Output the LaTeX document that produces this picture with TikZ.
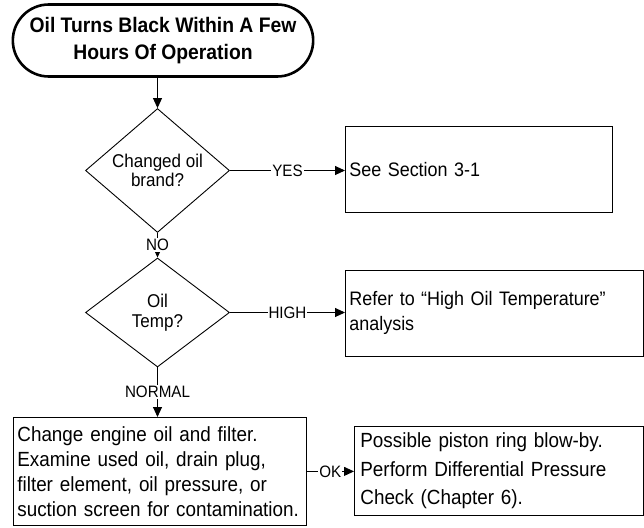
\documentclass[tikz,border=0pt]{standalone}
\usepackage{fontspec}
\setmainfont{Liberation Sans}[FakeStretch=0.92]
\usetikzlibrary{shapes.geometric, shapes.misc, arrows.meta, positioning}

\begin{document}
\begin{tikzpicture}[
    x=1pt, y=-1pt,
    term/.style={rounded rectangle, draw, line width=2.6pt, minimum width=307pt, minimum height=72pt, align=center, font=\bfseries\fontsize{21}{27}\selectfont},
    decision/.style={diamond, draw, line width=0.9pt, minimum width=144pt, minimum height=106pt, inner sep=0pt, align=center, font=\fontsize{18.5}{19.5}\selectfont},
    box/.style={rectangle, draw, line width=0.8pt, anchor=north west, inner xsep=4pt, inner ysep=3pt, align=left, font=\fontsize{19.5}{25}\selectfont},
    lbl/.style={fill=white, inner sep=1pt, font=\fontsize{16.5}{18}\selectfont},
    arrow/.style={-{Triangle[length=10pt, width=9pt]}, line width=0.9pt},
]

\useasboundingbox (0,0) rectangle (644,527);

\node[term] (oil) at (163,40.5) {Oil Turns Black Within A Few\\Hours Of Operation};
\node[decision] (brand) at (157.5,170.5) {Changed oil\\brand?};
\node[box, minimum height=86pt, text width=259pt] (sec) at (345,126) {See Section 3-1};
\node[decision, minimum height=109pt] (temp) at (157.5,312.5) {Oil\\Temp?};
\node[box, minimum height=86pt, text width=290pt] (hot) at (345,270) {Refer to “High Oil Temperature”\\analysis};
\node[box, minimum height=108pt, inner xsep=4pt, text width=285pt, font=\fontsize{20.5}{25}\selectfont] (change) at (13,417) {Change engine oil and filter.\\Examine used oil, drain plug,\\filter element, oil pressure, or\\suction screen for contamination.};
\node[box, minimum height=89pt, inner xsep=6pt, text width=277pt, font=\fontsize{20.5}{28.5}\selectfont] (ring) at (354,426) {Possible piston ring blow-by.\\Perform Differential Pressure\\Check (Chapter 6).};

\draw[arrow] (oil.south -| brand.north) -- (brand.north);
\draw[arrow] (brand.east) -- node[lbl] {YES} (brand.east -| sec.west);
\draw[arrow] (brand.south) -- node[lbl] {NO} (temp.north);
\draw[arrow] (temp.east) -- node[lbl] {HIGH} (temp.east -| hot.west);
\draw[arrow] (temp.south) -- node[lbl] {NORMAL} (temp.south |- change.north);
\draw[arrow] (change.east) -- node[lbl] {OK} (change.east -| ring.west);

\end{tikzpicture}
\end{document}
